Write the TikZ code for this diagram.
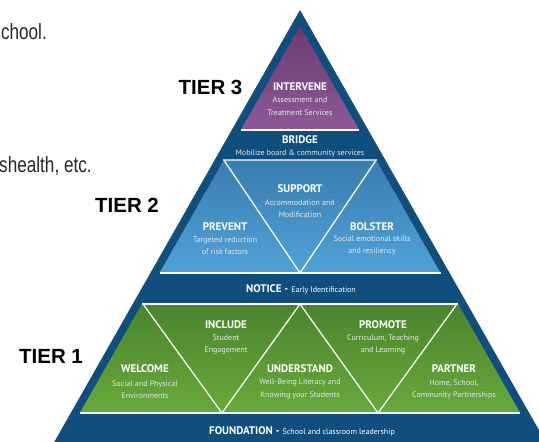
\documentclass[tikz,border=0pt]{standalone}
\usepackage{fontspec}
\setmainfont{PT Sans}
\newfontfamily\tierfont{Liberation Sans}
\newfontfamily\pagefont[FakeStretch=0.78]{Liberation Sans}
\usetikzlibrary{positioning}

\definecolor{pyrblue}{RGB}{15,78,125}
\definecolor{violettop}{RGB}{106,58,112}
\definecolor{violetbot}{RGB}{141,90,152}
\definecolor{bluetop}{RGB}{58,125,175}
\definecolor{bluebot}{RGB}{80,162,216}
\definecolor{greentop}{RGB}{74,133,44}
\definecolor{greenbot}{RGB}{104,170,60}
\definecolor{subgrey}{RGB}{225,232,238}

\begin{document}
\begin{tikzpicture}[x=1pt, y=-1pt,
    head/.style={text=white, font=\fontsize{11}{12}\selectfont\bfseries, inner sep=0pt},
    sub/.style={text=subgrey, font=\fontsize{8}{12.5}\selectfont, align=center, inner sep=0pt},
    band/.style={text=white, font=\fontsize{11}{12}\selectfont, inner sep=0pt},
    tier/.style={font=\tierfont\fontsize{20.5}{24}\selectfont\bfseries, inner sep=0pt},
    seam/.style={white, line width=1.2pt}]
    \useasboundingbox (0,0) rectangle (539,442);
    \clip (0,0) rectangle (539,442);

    % cut-off page text
    \node[anchor=base east, inner sep=0pt, text=black!85, font=\pagefont\fontsize{22}{26}\selectfont] (school) at (47,39) {school.};
    \node[anchor=base west, inner sep=0pt, text=black!85, font=\pagefont\fontsize{22}{26}\selectfont] (health) at (-1,172) {shealth, etc.};

    % pyramid
    \fill[pyrblue] (300,10) -- (44,460) -- (556,460) -- cycle;
    \shade[top color=violettop, bottom color=violetbot] (300,26) -- (240.8,130) -- (359.2,130) -- cycle;
    \draw[seam] (240.8,130) -- (359.2,130);
    \shade[top color=bluetop, bottom color=bluebot] (223.8,160) -- (376.2,160) -- (440.5,273) -- (159.5,273) -- cycle;
    \draw[seam] (159.5,273) -- (440.5,273);
    \draw[seam, line join=miter] (223.8,160) -- (376.2,160) -- (300,273) -- cycle;
    \shade[top color=greentop, bottom color=greenbot] (141.8,304) -- (458.2,304) -- (520.2,413) -- (79.8,413) -- cycle;
    \draw[seam] (141.8,304) -- (458.2,304);
    \draw[seam] (79.8,413) -- (520.2,413);
    \draw[seam] (143,304) -- (222,413) -- (300,304) -- (378,413) -- (457,304);

    % tier 3
    \node[head] (intervene) at (300,87) {INTERVENE};
    \node[sub] (intervenetxt) at (300,106) {Assessment and\\Treatment Services};
    \node[head] (bridge) at (300,140) {BRIDGE};
    \node[sub] (bridgetxt) at (300,153) {Mobilize board \& community services};

    % tier 2
    \node[head] (support) at (300,189) {SUPPORT};
    \node[sub] (supporttxt) at (300,208.5) {Accommodation and\\Modification};
    \node[head] (prevent) at (225,227) {PREVENT};
    \node[sub] (preventtxt) at (225,245.5) {Targeted reduction\\of risk factors};
    \node[head] (bolster) at (372,227) {BOLSTER};
    \node[sub] (bolstertxt) at (372,245.5) {Social emotional skills\\and resiliency};
    \node[band] (notice) at (301,289) {\textbf{NOTICE -} {\fontsize{8}{9}\selectfont Early Identification}};

    % tier 1
    \node[head] (include) at (226,325) {INCLUDE};
    \node[sub] (includetxt) at (226,344.5) {Student\\Engagement};
    \node[head] (promote) at (383,325) {PROMOTE};
    \node[sub] (promotetxt) at (383,344.5) {Curriculum, Teaching\\and Learning};
    \node[head] (welcome) at (145,369) {WELCOME};
    \node[sub] (welcometxt) at (145,389.5) {Social and Physical\\Environments};
    \node[head] (understand) at (300,369) {UNDERSTAND};
    \node[sub] (understandtxt) at (300,389) {Well-Being Literacy and\\Knowing your Students};
    \node[head] (partner) at (454,369) {PARTNER};
    \node[sub] (partnertxt) at (454,389.5) {Home, School,\\Community Partnerships};
    \node[band] (foundation) at (302,431) {\textbf{FOUNDATION -} {\fontsize{8}{9}\selectfont School and classroom leadership}};

    % tier labels
    \node[tier] (tier3) at (210.5,87) {TIER 3};
    \node[tier] (tier2) at (127,205) {TIER 2};
    \node[tier] (tier1) at (51,356) {TIER 1};
\end{tikzpicture}
\end{document}
